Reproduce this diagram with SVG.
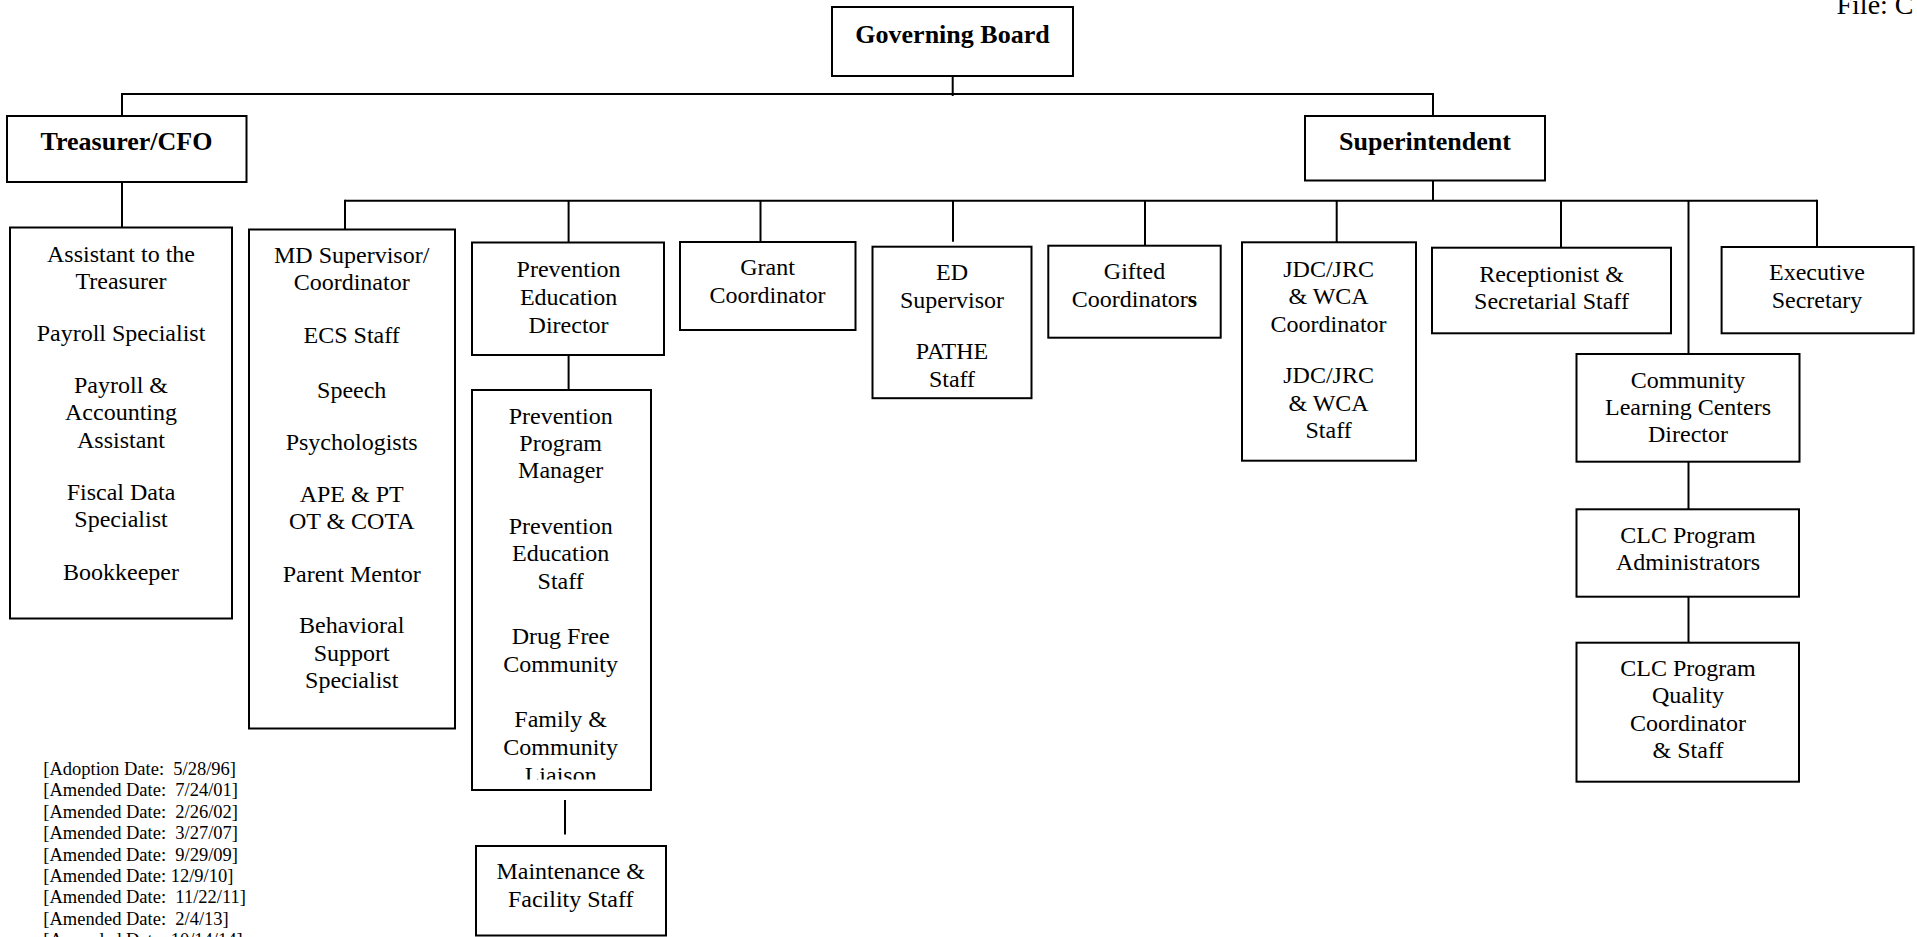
<svg xmlns="http://www.w3.org/2000/svg" width="1917" height="937" viewBox="0 0 1917 937">
<style>
.box{fill:#fff;stroke:#000;stroke-width:2}
.ln{stroke:#000;stroke-width:2;fill:none}
text{font-family:"Liberation Serif","Times New Roman",serif;fill:#000}
.t{font-size:24px;text-anchor:middle}
.b{font-size:26px;font-weight:bold;text-anchor:middle}
.d{font-size:18.5px;white-space:pre}
</style>
<defs>
<clipPath id="ppmclip"><rect x="472" y="390" width="179" height="389.5"/></clipPath>
</defs>
<rect width="1917" height="937" fill="#fff"/>
<g id="connectors">
<line class="ln" x1="952.7" y1="73" x2="952.7" y2="96"/>
<line class="ln" x1="122" y1="94" x2="1433" y2="94"/>
<line class="ln" x1="122" y1="93" x2="122" y2="116"/>
<line class="ln" x1="1433" y1="93" x2="1433" y2="116"/>
<line class="ln" x1="122" y1="182" x2="122" y2="227.5"/>
<line class="ln" x1="1433" y1="180.5" x2="1433" y2="200.7"/>
<line class="ln" x1="345" y1="200.7" x2="1817" y2="200.7"/>
<line class="ln" x1="345" y1="199.7" x2="345" y2="229.5"/>
<line class="ln" x1="568.6" y1="200.7" x2="568.6" y2="242.5"/>
<line class="ln" x1="760.5" y1="200.7" x2="760.5" y2="242"/>
<line class="ln" x1="953" y1="200.7" x2="953" y2="241.7"/>
<line class="ln" x1="1145" y1="200.7" x2="1145" y2="245.7"/>
<line class="ln" x1="1336.7" y1="200.7" x2="1336.7" y2="242.3"/>
<line class="ln" x1="1561" y1="200.7" x2="1561" y2="247.7"/>
<line class="ln" x1="1688.5" y1="200.7" x2="1688.5" y2="354"/>
<line class="ln" x1="1817" y1="199.7" x2="1817" y2="247"/>
<line class="ln" x1="568.6" y1="355" x2="568.6" y2="390"/>
<line class="ln" x1="565" y1="800" x2="565" y2="834.5"/>
<line class="ln" x1="1688.5" y1="461.7" x2="1688.5" y2="509.3"/>
<line class="ln" x1="1688.5" y1="596.7" x2="1688.5" y2="642.7"/>
</g>
<g id="governing-board">
<rect class="box" x="832" y="7" width="241" height="69"/>
<text class="b" x="952.5" y="43">Governing Board</text>
</g>
<g id="treasurer">
<rect class="box" x="7" y="116" width="239.5" height="66"/>
<text class="b" x="126.5" y="150">Treasurer/CFO</text>
</g>
<g id="superintendent">
<rect class="box" x="1305" y="116" width="240" height="64.5"/>
<text class="b" x="1425" y="150">Superintendent</text>
</g>
<g id="treasurer-staff">
<rect class="box" x="10" y="227.5" width="222" height="391"/>
<text class="t" x="121" y="261.7">Assistant to the</text>
<text class="t" x="121" y="289">Treasurer</text>
<text class="t" x="121" y="340.7">Payroll Specialist</text>
<text class="t" x="121" y="393">Payroll &amp;</text>
<text class="t" x="121" y="420">Accounting</text>
<text class="t" x="121" y="448">Assistant</text>
<text class="t" x="121" y="500">Fiscal Data</text>
<text class="t" x="121" y="527">Specialist</text>
<text class="t" x="121" y="580">Bookkeeper</text>
</g>
<g id="md-supervisor">
<rect class="box" x="249" y="229.5" width="206" height="499"/>
<text class="t" x="351.7" y="262.7">MD Supervisor/</text>
<text class="t" x="351.7" y="290">Coordinator</text>
<text class="t" x="351.7" y="343">ECS Staff</text>
<text class="t" x="351.7" y="398">Speech</text>
<text class="t" x="351.7" y="450">Psychologists</text>
<text class="t" x="351.7" y="501.7">APE &amp; PT</text>
<text class="t" x="351.7" y="529">OT &amp; COTA</text>
<text class="t" x="351.7" y="581.7">Parent Mentor</text>
<text class="t" x="351.7" y="633">Behavioral</text>
<text class="t" x="351.7" y="660.7">Support</text>
<text class="t" x="351.7" y="688">Specialist</text>
</g>
<g id="prevention-director">
<rect class="box" x="472" y="242.5" width="192" height="112.5"/>
<text class="t" x="568.6" y="277">Prevention</text>
<text class="t" x="568.6" y="305">Education</text>
<text class="t" x="568.6" y="333">Director</text>
</g>
<g id="prevention-staff">
<rect class="box" x="472" y="390" width="179" height="400"/>
<g clip-path="url(#ppmclip)">
<text class="t" x="560.7" y="424">Prevention</text>
<text class="t" x="560.7" y="451">Program</text>
<text class="t" x="560.7" y="478">Manager</text>
<text class="t" x="560.7" y="534">Prevention</text>
<text class="t" x="560.7" y="561">Education</text>
<text class="t" x="560.7" y="589">Staff</text>
<text class="t" x="560.7" y="644">Drug Free</text>
<text class="t" x="560.7" y="672">Community</text>
<text class="t" x="560.7" y="727">Family &amp;</text>
<text class="t" x="560.7" y="755">Community</text>
<text class="t" x="560.7" y="782.5">Liaison</text>
</g>
</g>
<g id="maintenance">
<rect class="box" x="476" y="846" width="190" height="89.5"/>
<text class="t" x="570.7" y="879.3">Maintenance &amp;</text>
<text class="t" x="570.7" y="906.7">Facility Staff</text>
</g>
<g id="grant">
<rect class="box" x="680" y="242" width="175.5" height="88"/>
<text class="t" x="767.5" y="275">Grant</text>
<text class="t" x="767.5" y="303">Coordinator</text>
</g>
<g id="ed-supervisor">
<rect class="box" x="872.5" y="246.7" width="159" height="151.5"/>
<text class="t" x="952" y="280">ED</text>
<text class="t" x="952" y="307.5">Supervisor</text>
<text class="t" x="952" y="359">PATHE</text>
<text class="t" x="952" y="387">Staff</text>
</g>
<g id="gifted">
<rect class="box" x="1048.3" y="245.7" width="172.4" height="92"/>
<text class="t" x="1134.5" y="279.3">Gifted</text>
<text class="t" x="1134.5" y="307.3">Coordinator<tspan font-weight="bold">s</tspan></text>
</g>
<g id="jdc">
<rect class="box" x="1242" y="242.3" width="174" height="218.4"/>
<text class="t" x="1328.6" y="277">JDC/JRC</text>
<text class="t" x="1328.6" y="304">&amp; WCA</text>
<text class="t" x="1328.6" y="331.5">Coordinator</text>
<text class="t" x="1328.6" y="383">JDC/JRC</text>
<text class="t" x="1328.6" y="411">&amp; WCA</text>
<text class="t" x="1328.6" y="438">Staff</text>
</g>
<g id="receptionist">
<rect class="box" x="1432" y="247.7" width="239" height="85.6"/>
<text class="t" x="1551.5" y="282">Receptionist &amp;</text>
<text class="t" x="1551.5" y="309">Secretarial Staff</text>
</g>
<g id="executive-secretary">
<rect class="box" x="1721.6" y="247" width="192" height="86.3"/>
<text class="t" x="1817" y="279.5">Executive</text>
<text class="t" x="1817" y="307.5">Secretary</text>
</g>
<g id="clc-director">
<rect class="box" x="1576.5" y="354" width="223" height="107.7"/>
<text class="t" x="1688" y="388">Community</text>
<text class="t" x="1688" y="415">Learning Centers</text>
<text class="t" x="1688" y="442">Director</text>
</g>
<g id="clc-admin">
<rect class="box" x="1576.5" y="509.3" width="222.5" height="87.4"/>
<text class="t" x="1688" y="542.7">CLC Program</text>
<text class="t" x="1688" y="570">Administrators</text>
</g>
<g id="clc-quality">
<rect class="box" x="1576.5" y="642.7" width="222.5" height="139"/>
<text class="t" x="1688" y="676">CLC Program</text>
<text class="t" x="1688" y="702.7">Quality</text>
<text class="t" x="1688" y="730.7">Coordinator</text>
<text class="t" x="1688" y="757.7">&amp; Staff</text>
</g>
<g id="file-label">
<text x="1836.5" y="14" font-size="28">File: C</text>
</g>
<g id="dates">
<text class="d" x="43.3" y="775">[Adoption Date:  5/28/96]</text>
<text class="d" x="43.3" y="796.4">[Amended Date:  7/24/01]</text>
<text class="d" x="43.3" y="817.8">[Amended Date:  2/26/02]</text>
<text class="d" x="43.3" y="839.2">[Amended Date:  3/27/07]</text>
<text class="d" x="43.3" y="860.6">[Amended Date:  9/29/09]</text>
<text class="d" x="43.3" y="882">[Amended Date: 12/9/10]</text>
<text class="d" x="43.3" y="903.4">[Amended Date:  11/22/11]</text>
<text class="d" x="43.3" y="924.8">[Amended Date:  2/4/13]</text>
<text class="d" x="43.3" y="946.2">[Amended Date: 10/14/14]</text>
</g>
</svg>
